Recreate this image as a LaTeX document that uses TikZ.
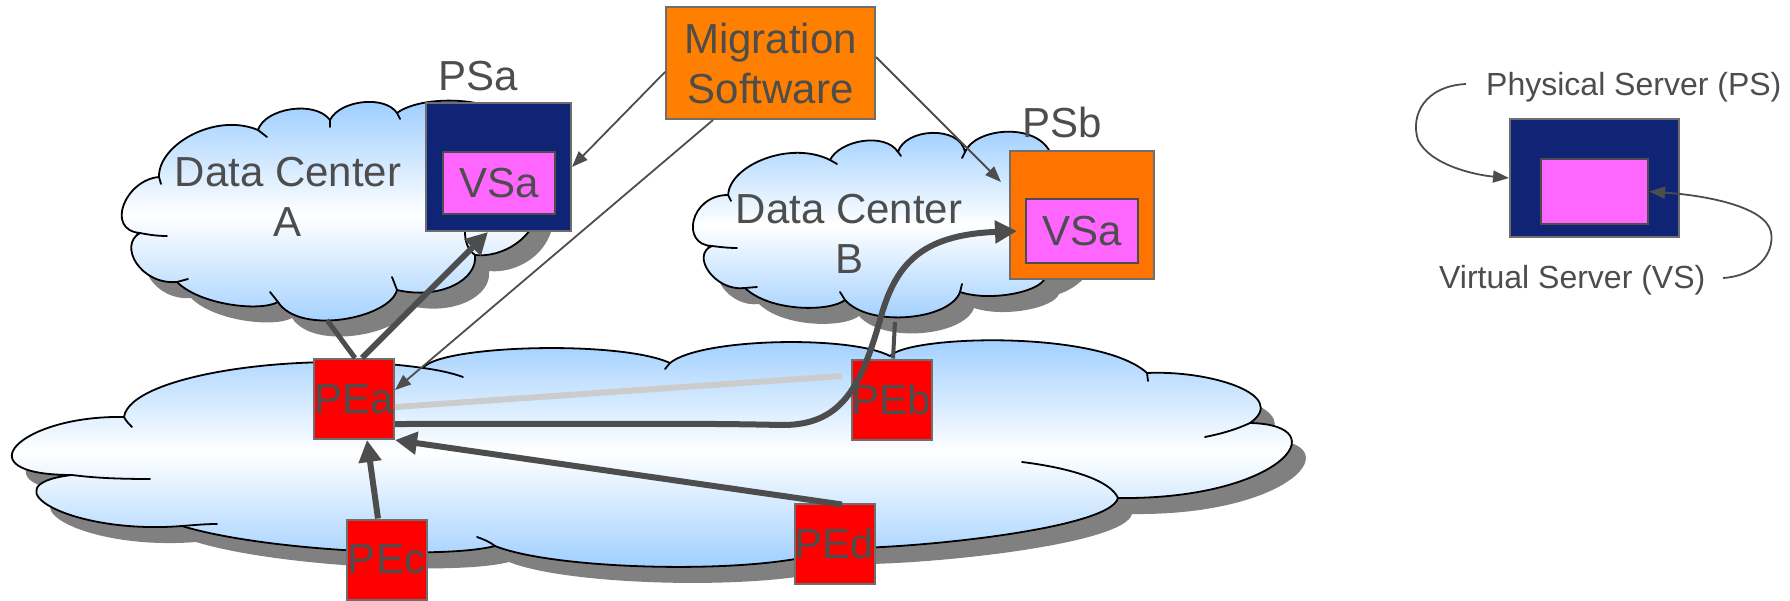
\documentclass[tikz,border=0pt]{standalone}
\usepackage{fontspec}
\setmainfont{Liberation Sans}
\usetikzlibrary{arrows.meta}
\definecolor{txt}{HTML}{4D4D4D}
\definecolor{navy}{HTML}{0F2474}
\definecolor{pinkv}{HTML}{FF66FF}
\definecolor{orgM}{HTML}{FF8000}
\definecolor{orgB}{HTML}{FF7300}
\definecolor{cb}{HTML}{99CCFF}
\definecolor{shd}{HTML}{808080}
\definecolor{lg}{HTML}{CCCCCC}
\definecolor{bord}{HTML}{6E6E6E}
\def\bigcloud{(124,417) .. controls (130,375) and (300,350) .. (423,368)
 .. controls (440,345) and (620,340) .. (670,363)
 .. controls (700,338) and (850,335) .. (890,356)
 .. controls (910,335) and (1100,330) .. (1147,373)
 .. controls (1210,370) and (1290,395) .. (1250,423)
 .. controls (1340,425) and (1280,500) .. (1118,498)
 .. controls (1110,530) and (900,550) .. (835,548)
 .. controls (780,575) and (560,572) .. (495,546)
 .. controls (440,560) and (260,550) .. (182,526)
 .. controls (70,535) and (-15,485) .. (72,475)
 .. controls (-40,475) and (20,415) .. (124,417) -- cycle}
\def\cloudA{(159,177) .. controls (158,145) and (215,112) .. (258,130)
 .. controls (265,108) and (315,100) .. (330,120)
 .. controls (340,100) and (385,95) .. (397,113)
 .. controls (410,103) and (440,98) .. (470,102)
 .. controls (520,110) and (540,160) .. (540,200)
 .. controls (538,240) and (500,258) .. (475,255)
 .. controls (478,280) and (440,300) .. (397,290)
 .. controls (390,318) and (300,336) .. (278,302)
 .. controls (260,312) and (200,305) .. (177,282)
 .. controls (140,285) and (118,245) .. (140,233)
 .. controls (105,230) and (125,180) .. (159,177) -- cycle}
\def\cloudB{(728,195) .. controls (730,165) and (790,140) .. (830,160)
 .. controls (840,140) and (885,132) .. (898,152)
 .. controls (905,128) and (960,125) .. (965,152)
 .. controls (975,128) and (1035,122) .. (1050,152)
 .. controls (1110,170) and (1100,260) .. (1045,278)
 .. controls (1040,292) and (990,302) .. (960,292)
 .. controls (950,320) and (870,328) .. (845,300)
 .. controls (830,312) and (770,312) .. (745,288)
 .. controls (715,292) and (690,255) .. (712,246)
 .. controls (680,245) and (690,195) .. (728,195) -- cycle}
\begin{document}
\begin{tikzpicture}[x=1pt,y=-1pt,
  big/.style={font=\fontsize{42}{50}\selectfont, text=txt},
  small/.style={font=\fontsize{32}{38}\selectfont, text=txt},
  box/.style={draw=bord, line width=2pt, inner sep=0pt},
  inbox/.style={draw=txt, line width=2pt, inner sep=0pt, fill=pinkv},
  pe/.style={box, fill=red, minimum width=80pt, minimum height=80pt, big},
  cloudshade/.style={draw=black, line width=1.8pt, line join=round, top color=cb, bottom color=cb, middle color=white},
  shadowfill/.style={fill=shd},
  inner arc/.style={draw=black, line width=1.8pt, line cap=round},
  thin arrow/.style={draw=txt, line width=1.8pt, -{Triangle[length=16pt,width=12pt]}},
  thick arrow/.style={draw=txt, line width=6pt, -{Triangle[length=22pt,width=22pt]}},
  thick link/.style={draw=txt, line width=5pt},
  grey link/.style={draw=lg, line width=6pt}
]
\useasboundingbox (0,0) rectangle (1790,601);

% shadows
\fill[shadowfill, shift={(14,16)}] \bigcloud;
\fill[shadowfill, shift={(14,16)}] \cloudA;
\fill[shadowfill, shift={(14,16)}] \cloudB;

% clouds
\shadedraw[cloudshade] \bigcloud;
\shadedraw[cloudshade] \cloudA;
\shadedraw[cloudshade] \cloudB;

% interior arcs of the big cloud
\draw[inner arc] (124,417) .. controls (126,421) and (129,424) .. (132,427);
\draw[inner arc] (423,368) .. controls (438,370) and (452,373) .. (463,377);
\draw[inner arc] (670,363) -- (665,369);
\draw[inner arc] (1147,373) -- (1148,381);
\draw[inner arc] (1250,423) .. controls (1235,430) and (1220,434) .. (1205,437);
\draw[inner arc] (1118,498) .. controls (1110,480) and (1070,468) .. (1022,462);
\draw[inner arc] (495,546) .. controls (490,542) and (483,539) .. (477,537);
\draw[inner arc] (182,526) .. controls (195,525) and (206,524) .. (217,524);
\draw[inner arc] (72,475) .. controls (95,478) and (120,479) .. (150,479);
% interior arcs of cloud A
\draw[inner arc] (159,177) -- (161,184);
\draw[inner arc] (258,130) -- (267,137);
\draw[inner arc] (330,120) -- (330,127);
\draw[inner arc] (397,113) -- (400,119);
\draw[inner arc] (475,255) .. controls (468,250) and (465,242) .. (465,232);
\draw[inner arc] (397,290) -- (392,277);
\draw[inner arc] (278,302) -- (270,292);
\draw[inner arc] (177,282) -- (188,279);
\draw[inner arc] (140,233) .. controls (150,235) and (158,236) .. (167,236);
% interior arcs of cloud B
\draw[inner arc] (728,195) -- (731,201);
\draw[inner arc] (830,160) -- (837,164);
\draw[inner arc] (898,152) -- (901,156);
\draw[inner arc] (965,152) -- (962,158);
\draw[inner arc] (960,292) -- (962,284);
\draw[inner arc] (845,300) -- (840,292);
\draw[inner arc] (745,288) -- (757,287);
\draw[inner arc] (712,246) .. controls (720,247) and (728,248) .. (737,248);

% texts on clouds
\node[big, align=center, inner sep=0pt] (DCA) at (288,197) {Data Center\\A};
\node[big, align=center, inner sep=0pt] (DCB) at (849,234) {Data Center\\B};

% servers
\node[box, fill=navy, minimum width=145pt, minimum height=128pt] (PSa) at (498.5,167) {};
\node[inbox, minimum width=112pt, minimum height=62pt, big] (VSa) at (499,183) {VSa};
\node[big, anchor=base, inner sep=0pt] (PSaL) at (478.5,91) {PSa};

\node[box, fill=orgB, minimum width=144pt, minimum height=128pt] (PSb) at (1082,215) {};
\node[inbox, minimum width=112pt, minimum height=64pt, big] (VSb) at (1082,231) {VSa};
\node[big, anchor=base, inner sep=0pt] (PSbL) at (1062.5,138) {PSb};

\node[box, fill=orgM, minimum width=209pt, minimum height=112pt, big, align=center] (Mig) at (770.5,63) {Migration\\Software};

% PE routers
\node[pe] (PEa) at (354,399) {PEa};
\node[pe] (PEb) at (891.5,399.5) {PEb};
\node[pe] (PEc) at (386.5,559.5) {PEc};
\node[pe] (PEd) at (834.5,543.5) {PEd};

% legend
\node[box, fill=navy, minimum width=169pt, minimum height=118pt] (LegPS) at (1594.5,178) {};
\node[inbox, minimum width=107pt, minimum height=65pt] (LegVS) at (1594.5,191.5) {};
\node[small, anchor=base west, inner sep=0pt] (PSlbl) at (1486,96) {Physical Server (PS)};
\node[small, anchor=base west, inner sep=0pt] (VSlbl) at (1439,289) {Virtual Server (VS)};
\coordinate (lgA) at (1466,84);
\coordinate (lgB) at (1723,278);
\draw[thin arrow] (lgA) .. controls (1425,86) and (1410,115) .. (1418,140) .. controls (1430,165) and (1475,175) .. (LegPS.west);
\draw[thin arrow] (lgB) .. controls (1755,276) and (1775,255) .. (1771,232) .. controls (1765,205) and (1700,195) .. (LegVS.east);

% connectors
\coordinate (cA) at (327,320);
\coordinate (cB) at (895,322);
\coordinate (gEnd) at (842,376);
\draw[grey link] ([yshift=-8pt]PEa.east) -- (gEnd);
\draw[thick link] (cA) -- ([xshift=1pt]PEa.north);
\draw[draw=txt, line width=4pt] (cB) -- ([xshift=1.5pt]PEb.north);
\draw[thick arrow] ([xshift=8pt]PEa.north) -- ([xshift=-10.5pt]PSa.south);
\draw[thick arrow] ([yshift=-25pt]PEa.east) .. controls (600,424) and (700,423) .. (780,425) .. controls (840,426) and (860,390) .. (880,320) .. controls (895,265) and (920,235) .. ([xshift=-8pt]VSb.west);
\draw[thick arrow] ([xshift=7.5pt,yshift=-2pt]PEd.north) -- (PEa.south east);
\draw[thick arrow] ([xshift=-8.5pt]PEc.north) -- ([xshift=13pt]PEa.south);
\draw[thin arrow] ([yshift=-9pt]Mig.west) -- (PSa.east);
\draw[thin arrow] ([xshift=-57.5pt]Mig.south) -- ([yshift=9pt]PEa.east);
\draw[thin arrow] ([yshift=6pt]Mig.east) -- ([xshift=-8pt,yshift=33pt]PSb.west);
\end{tikzpicture}
\end{document}
